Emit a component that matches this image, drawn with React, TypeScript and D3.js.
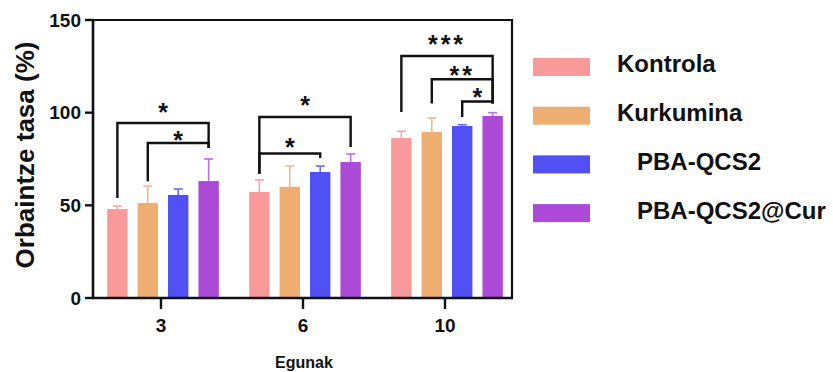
import React from "react";
import * as d3 from "d3";

const groups = ["3", "6", "10"];
const seriesNames = ["Kontrola", "Kurkumina", "PBA-QCS2", "PBA-QCS2@Cur"];
const colors = ["#f99a9a", "#efae72", "#5050f4", "#aa4ad6"];
const errColors = ["#f5a8a8", "#f0b98a", "#6a6af2", "#b870e0"];

const kontrola = [48, 57.2, 86.3];
const kurkumina = [51.3, 60, 89.6];
const pbaQcs2 = [55.6, 68, 92.8];
const pbaCur = [63.1, 73.4, 98.2];
const values = [kontrola, kurkumina, pbaQcs2, pbaCur];

const kontrolaErr = [49.6, 63.7, 90];
const kurkuminaErr = [60.4, 71.2, 97.1];
const pbaQcs2Err = [58.8, 71.2, 93.5];
const pbaCurErr = [75, 77.7, 100];
const errTops = [kontrolaErr, kurkuminaErr, pbaQcs2Err, pbaCurErr];

const yTicks = [0, 50, 100, 150];

// significance brackets: group, from series, to series, bar level, left leg end, right leg end, label, label level
const bracketGroup = [0, 0, 1, 1, 2, 2, 2];
const bracketFrom = [0, 1, 0, 0, 0, 1, 2];
const bracketTo = [3, 3, 3, 2, 3, 3, 3];
const bracketLevel = [94.4, 83.6, 97.7, 78, 130.6, 118, 106];
const bracketLeftEnd = [54, 63, 67, 67, 100.4, 105, 97.7];
const bracketRightEnd = [81, 81, 81.5, 75.5, 105, 105, 105];
const bracketLabel = ["*", "*", "*", "*", "***", "**", "*"];
const bracketLabelLevel = [103.1, 88, 106.9, 84.2, 139.8, 123, 111.2];

const FONT = "'Liberation Sans', Arial, Helvetica, sans-serif";

export default function App() {
  const W = 833;
  const H = 372;
  const left = 93;
  const right = 512;
  const top = 20;
  const bottom = 298;

  const y = d3.scaleLinear().domain([0, 150]).range([bottom, top]);
  const x = d3.scaleBand<string>().domain(groups).range([90, 516]).padding(0);
  const inner = d3
    .scaleBand<number>()
    .domain([0, 1, 2, 3])
    .range([-59, 63])
    .paddingInner(0.33)
    .paddingOuter(0.17);
  const bw = inner.bandwidth();
  const gc = (g: number) => (x(groups[g]) as number) + x.bandwidth() / 2;
  const bc = (g: number, s: number) => gc(g) + (inner(s) as number) + bw / 2;

  return (
    <svg width={W} height={H} style={{ display: "block", position: "absolute", left: 0, top: 0 }} fontFamily={FONT}>
      <rect x={0} y={0} width={W} height={H} fill="#fff" />
      {/* bars */}
      {values.map((vals, s) =>
        vals.map((v, g) => {
          const cx = bc(g, s);
          return (
            <g key={`b${s}-${g}`}>
              <line x1={cx} x2={cx} y1={y(v)} y2={y(errTops[s][g])} stroke={errColors[s]} strokeWidth={1.6} />
              <line x1={cx - 4.5} x2={cx + 4.5} y1={y(errTops[s][g])} y2={y(errTops[s][g])} stroke={errColors[s]} strokeWidth={1.6} />
              <rect x={cx - bw / 2} y={y(v)} width={bw} height={y(0) - y(v)} fill={colors[s]} />
            </g>
          );
        })
      )}
      {/* frame */}
      <path d={`M${left},${top}H${right}V${bottom}`} fill="none" stroke="#111" strokeWidth={2.2} />
      <line x1={left} x2={left} y1={top - 1} y2={bottom + 1} stroke="#111" strokeWidth={2.6} />
      <line x1={left - 1} x2={right + 1} y1={bottom} y2={bottom} stroke="#111" strokeWidth={2.6} />
      {/* y ticks */}
      {yTicks.map((t) => (
        <g key={`yt${t}`}>
          <line x1={left - 8} x2={left} y1={y(t)} y2={y(t)} stroke="#111" strokeWidth={2.4} />
          <text x={left - 12} y={y(t)} dy="0.35em" textAnchor="end" fontSize={19} fontWeight="bold" fill="#111">
            {t}
          </text>
        </g>
      ))}
      {/* x ticks */}
      {groups.map((g, i) => (
        <g key={`xt${g}`}>
          <line x1={gc(i)} x2={gc(i)} y1={bottom} y2={bottom + 11} stroke="#111" strokeWidth={2.4} />
          <text x={gc(i)} y={332} textAnchor="middle" fontSize={19} fontWeight="bold" fill="#111">
            {g}
          </text>
        </g>
      ))}
      <text x={304} y={368} textAnchor="middle" fontSize={16} fontWeight="bold" fill="#111">
        Egunak
      </text>
      <text
        transform={`translate(34,155) rotate(-90)`}
        textAnchor="middle"
        fontSize={26}
        fontWeight="bold"
        fill="#111"
      >
        Orbaintze tasa (%)
      </text>
      {/* brackets */}
      {bracketGroup.map((g, i) => {
        const x1 = bc(g, bracketFrom[i]);
        const x2 = bc(g, bracketTo[i]);
        const yl = y(bracketLevel[i]);
        const d = `M${x1},${y(bracketLeftEnd[i])}V${yl}H${x2}V${y(bracketRightEnd[i])}`;
        const lx = (x1 + x2) / 2;
        const ly = y(bracketLabelLevel[i]);
        return (
          <g key={`br${i}`}>
            <path d={d} fill="none" stroke="#111" strokeWidth={2.4} />
            <text x={lx} y={ly + 14} textAnchor="middle" fontSize={25} fontWeight="bold" fill="#111" letterSpacing={bracketLabel[i].length > 1 ? 3 : 0}>
              {bracketLabel[i]}
            </text>
          </g>
        );
      })}
      {/* legend */}
      {seriesNames.map((n, i) => (
        <g key={`lg${i}`}>
          <rect x={533} y={58 + i * 48.7} width={57} height={18} fill={colors[i]} />
          <text x={i < 2 ? 617 : 637} y={72 + i * 49} fontSize={24} fontWeight="bold" fill="#111">
            {n}
          </text>
        </g>
      ))}
    </svg>
  );
}
